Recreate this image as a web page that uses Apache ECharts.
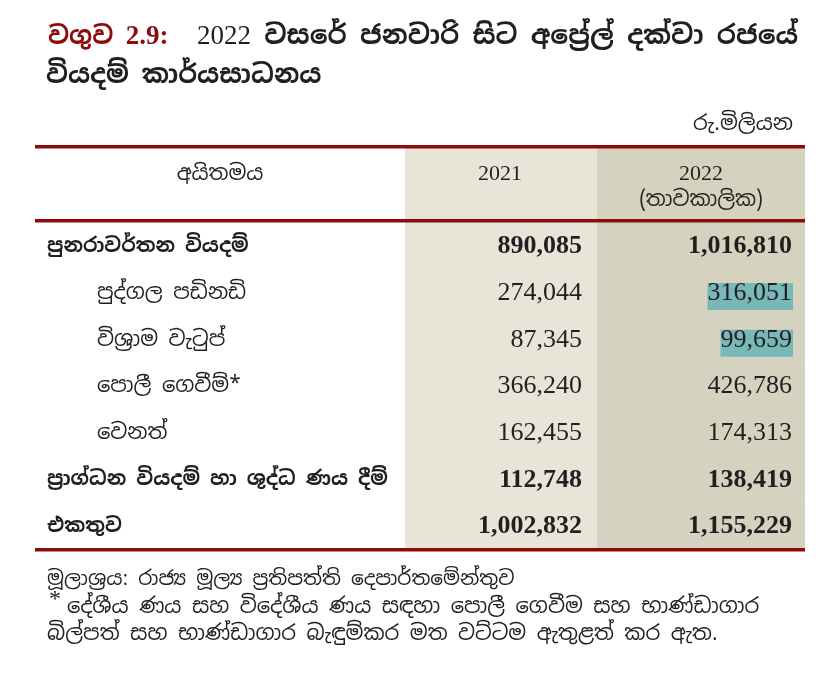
<!DOCTYPE html>
<html>
<head>
<meta charset="utf-8">
<script src="https://cdn.jsdelivr.net/npm/echarts@6/dist/echarts.min.js"></script>
<style>
  html, body { margin: 0; padding: 0; background: #fff; }
  #main { width: 823px; height: 674px; }
</style>
</head>
<body>
<div id="main"></div>
<script>
// table content
var titleNo = ["වගුව ", "2.9:"];
var titleYear = "2022";
var titleLines = [" වසරේ ජනවාරි සිට අප්‍රේල් දක්වා රජයේ", "වියදම් කාර්යසාධනය"];
var unitLabel = "රු.මිලියන";
var colHeaders = ["අයිතමය", "2021", "2022", "(තාවකාලික)"];
var rowLabels = [
  "පුනරාවර්තන වියදම්",
  "පුද්ගල පඩිනඩි",
  "විශ්‍රාම වැටුප්",
  "පොලී ගෙවීම්*",
  "වෙනත්",
  "ප්‍රාග්ධන වියදම් හා ශුද්ධ ණය දීම්",
  "එකතුව"
];
var rowLevel = [0, 1, 1, 1, 1, 0, 0]; // 0 = main item, 1 = sub item
var values2021 = [890085, 274044, 87345, 366240, 162455, 112748, 1002832];
var values2022 = [1016810, 316051, 99659, 426786, 174313, 138419, 1155229];
var marked2022 = [1, 2];
var footnotes = [
  "මූලාශ්‍රය: රාජ්‍ය මූල්‍ය ප්‍රතිපත්ති දෙපාර්තමේන්තුව",
  "දේශීය ණය සහ විදේශීය ණය සඳහා පොලී ගෙවීම සහ භාණ්ඩාගාර",
  "බිල්පත් සහ භාණ්ඩාගාර බැඳුම්කර මත වට්ටම ඇතුළත් කර ඇත."
];

// layout / style
var SI = "'Noto Sans Sinhala', 'Noto Serif Sinhala', 'Iskoola Pota', 'Noto Sans', sans-serif";
var NUM = "'Liberation Serif', 'Times New Roman', serif";
var RED = "#8c0b0b";
var INK = "#231f20";
var BG2021 = "#e8e5d8";
var BG2022 = "#d5d2bf";
var MARK = "#79b8b8";
var LEFT = 35, RIGHT = 805, COL2 = 405, COL3 = 597;
var HEAD_TOP = 147, HEAD_BOTTOM = 220, BODY_BOTTOM = 549;

var fmt = function (v) {
  return v.toLocaleString("en-US");
};

var measureCtx = document.createElement("canvas").getContext("2d");
function textWidth(text, font) {
  measureCtx.font = font;
  return measureCtx.measureText(text).width;
}

var chart = echarts.init(document.getElementById("main"));

var titleRich = {
  noSi: { fill: RED, font: "bold 25px " + SI },
  noNum: { fill: RED, font: "bold 27px " + NUM },
  year: { fill: INK, font: "27px " + NUM },
  txt: { fill: INK, font: "bold 26.5px " + SI }
};

var option = {
  animation: false,
  grid: {
    left: LEFT,
    right: 823 - RIGHT,
    top: HEAD_BOTTOM + 2,
    bottom: 674 - BODY_BOTTOM
  },
  xAxis: { type: "value", min: 0, max: 1, show: false },
  yAxis: { type: "category", data: rowLabels, inverse: true, show: false },
  graphic: [
    // header cell backgrounds
    { type: "rect", shape: { x: COL2, y: HEAD_TOP, width: COL3 - COL2, height: HEAD_BOTTOM - HEAD_TOP + 2 }, style: { fill: BG2021 }, z: 0 },
    { type: "rect", shape: { x: COL3, y: HEAD_TOP, width: RIGHT - COL3, height: HEAD_BOTTOM - HEAD_TOP + 2 }, style: { fill: BG2022 }, z: 0 },
    // rules
    { type: "rect", shape: { x: LEFT, y: HEAD_TOP - 2, width: RIGHT - LEFT, height: 3.5 }, style: { fill: RED }, z: 10 },
    { type: "rect", shape: { x: LEFT, y: HEAD_BOTTOM - 1, width: RIGHT - LEFT, height: 3.5 }, style: { fill: RED }, z: 10 },
    { type: "rect", shape: { x: LEFT, y: BODY_BOTTOM - 1, width: RIGHT - LEFT, height: 3.5 }, style: { fill: RED }, z: 10 },
    // title
    {
      type: "text", x: 48, y: 37,
      style: { text: "{noSi|" + titleNo[0] + "}{noNum|" + titleNo[1] + "}", rich: titleRich, verticalAlign: "middle" }
    },
    {
      type: "text", x: 197, y: 37,
      style: { text: "{year|" + titleYear + "}{txt|" + titleLines[0] + "}", rich: titleRich, verticalAlign: "middle" }
    },
    { type: "text", x: 46, y: 76, style: { text: titleLines[1], fill: INK, font: "bold 26px " + SI, verticalAlign: "middle" } },
    { type: "text", x: 793, y: 124, style: { text: unitLabel, fill: INK, font: "21px " + SI, align: "right", verticalAlign: "middle" } },
    // column headers
    { type: "text", x: 220, y: 174, style: { text: colHeaders[0], fill: INK, font: "21px " + SI, align: "center", verticalAlign: "middle" } },
    { type: "text", x: 500, y: 174, style: { text: colHeaders[1], fill: INK, font: "22px " + NUM, align: "center", verticalAlign: "middle" } },
    { type: "text", x: 701, y: 174, style: { text: colHeaders[2], fill: INK, font: "22px " + NUM, align: "center", verticalAlign: "middle" } },
    { type: "text", x: 701, y: 200, style: { text: colHeaders[3], fill: INK, font: "21px " + SI, align: "center", verticalAlign: "middle" } },
    // footnotes
    { type: "text", x: 47, y: 579, style: { text: footnotes[0], fill: INK, font: "20px " + SI, verticalAlign: "middle" } },
    { type: "text", x: 49, y: 600, style: { text: "*", fill: INK, font: "24px " + NUM, verticalAlign: "middle" } },
    { type: "text", x: 67, y: 607, style: { text: footnotes[1], fill: INK, font: "21px " + SI, verticalAlign: "middle" } },
    { type: "text", x: 47, y: 634, style: { text: footnotes[2], fill: INK, font: "21px " + SI, verticalAlign: "middle" } }
  ],
  series: [
    {
      type: "custom",
      coordinateSystem: "cartesian2d",
      data: rowLabels.map(function (name, i) {
        return [0, i];
      }),
      renderItem: function (params, api) {
        var i = api.value(1);
        var yc = api.coord([0, i])[1];
        var band = api.size([0, 1])[1];
        var top = yc - band / 2;
        var bold = rowLevel[i] === 0;
        var numFont = (bold ? "bold " : "") + "26px " + NUM;
        var labFont = (bold ? "bold 20px " : "21px ") + SI;
        var ty = yc + 1;
        var children = [
          { type: "rect", shape: { x: COL2, y: top, width: COL3 - COL2, height: band + 0.5 }, style: { fill: BG2021 } },
          { type: "rect", shape: { x: COL3, y: top, width: RIGHT - COL3, height: band + 0.5 }, style: { fill: BG2022 } }
        ];
        if (marked2022.indexOf(i) >= 0) {
          var w = textWidth(fmt(values2022[i]), numFont);
          children.push({
            type: "rect",
            shape: { x: 792 - w, y: ty - 10, width: w + 1, height: 27 },
            style: { fill: MARK }
          });
        }
        children.push(
          { type: "text", x: bold ? 47 : 97, y: ty, style: { text: rowLabels[i], fill: INK, font: labFont, verticalAlign: "middle" } },
          { type: "text", x: 582, y: ty, style: { text: fmt(values2021[i]), fill: INK, font: numFont, align: "right", verticalAlign: "middle" } },
          { type: "text", x: 792, y: ty, style: { text: fmt(values2022[i]), fill: INK, font: numFont, align: "right", verticalAlign: "middle" } }
        );
        return { type: "group", children: children };
      },
      z: 2
    }
  ]
};

chart.setOption(option);
</script>
</body>
</html>
